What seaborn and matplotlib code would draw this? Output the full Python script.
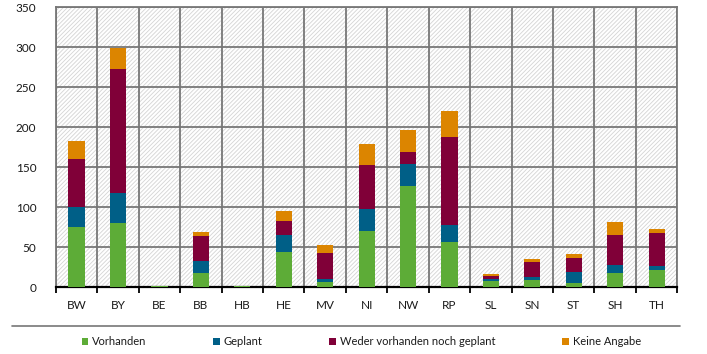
import numpy as np
import pandas as pd
import seaborn as sns
import matplotlib.pyplot as plt
from matplotlib.patches import Rectangle
from matplotlib.ticker import MultipleLocator, FixedLocator

laender = ['BW', 'BY', 'BE', 'BB', 'HB', 'HE', 'MV', 'NI', 'NW', 'RP', 'SL', 'SN', 'ST', 'SH', 'TH']
vorhanden = [75, 80, 1, 17, 1, 44, 6, 70, 126, 56, 8, 9, 5, 18, 21]
geplant = [25, 38, 0, 16, 0, 21, 4, 28, 28, 22, 2, 4, 14, 10, 5]
weder = [60, 154, 0, 31, 0, 18, 32, 54, 15, 110, 4, 18, 17, 37, 41]
keine = [23, 27, 0, 5, 0, 12, 10, 27, 27, 32, 2, 4, 5, 16, 6]

series = ['Vorhanden', 'Geplant', 'Weder vorhanden noch geplant', 'Keine Angabe']
colors = ['#5dac37', '#005f87', '#800038', '#dc8500']

sns.set_style('white')
plt.rcParams['font.family'] = ['Lato', 'DejaVu Sans']
plt.rcParams['hatch.linewidth'] = 0.6

df = pd.DataFrame({'land': laender, 'Vorhanden': vorhanden, 'Geplant': geplant,
                   'Weder vorhanden noch geplant': weder, 'Keine Angabe': keine})

fig = plt.figure(figsize=(7.07, 3.54), dpi=100)
ax = fig.add_axes([0.079, 0.189, 0.879, 0.791])

# hatched background
ax.add_patch(Rectangle((0, 0), 1, 1, transform=ax.transAxes, facecolor='white',
                       edgecolor='#d4d4d4', hatch='////////', lw=0, zorder=0))

# stacked bars: draw cumulative totals from the top down
cum = df[series].cumsum(axis=1)
for name, col in reversed(list(zip(series, colors))):
    sns.barplot(x=df['land'], y=cum[name], color=col, width=0.39, ax=ax,
                saturation=1, zorder=3, label=name, linewidth=0)

ax.set_xlim(-0.5, 14.5)
ax.set_ylim(0, 350)
ax.yaxis.set_major_locator(MultipleLocator(50))
ax.xaxis.set_minor_locator(FixedLocator(np.arange(-0.5, 15, 1)))
ax.grid(axis='y', which='major', color='#777777', lw=1.3, zorder=1)
ax.grid(axis='x', which='minor', color='#777777', lw=1.3, zorder=1)
ax.set_axisbelow(True)
ax.set_xlabel('')
ax.set_ylabel('')

for s in ['left', 'right', 'top']:
    ax.spines[s].set_color('#777777')
    ax.spines[s].set_linewidth(1.3)
ax.spines['bottom'].set_color('black')
ax.spines['bottom'].set_linewidth(1.6)

ax.tick_params(axis='x', which='major', length=0, pad=9, labelsize=8.5, colors='#1a1a1a')
ax.tick_params(axis='x', which='minor', length=4, width=1.3, color='black', direction='out', bottom=True)
ax.tick_params(axis='y', length=0, pad=14, labelsize=8.5, colors='#1a1a1a')

# separator line above the legend
fig.add_artist(plt.Line2D([0.017, 0.962], [0.079, 0.079], transform=fig.transFigure,
                          color='#777777', lw=1.2))

handles, labels = ax.get_legend_handles_labels()
order = [labels.index(n) for n in series]
if ax.legend_:
    ax.legend_.remove()
leg = fig.legend([handles[i] for i in order], series, loc='center', ncol=4,
                 bbox_to_anchor=(0.511, 0.034), frameon=False, fontsize=8,
                 handlelength=0.6, handleheight=0.6, handletextpad=0.35, columnspacing=6.0)
for t in leg.get_texts():
    t.set_color('#1a1a1a')

plt.savefig('out.png', dpi=100)
